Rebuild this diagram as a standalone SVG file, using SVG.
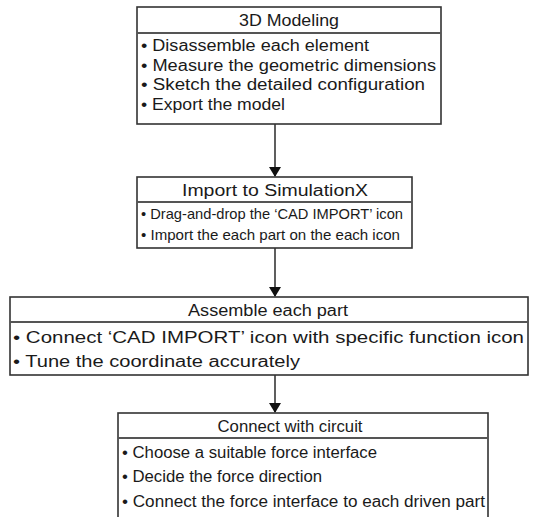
<svg xmlns="http://www.w3.org/2000/svg" width="536" height="517" viewBox="0 0 536 517">
  <style>
    .box { fill: #ffffff; stroke: #333333; stroke-width: 1.6; }
    .div { stroke: #555555; stroke-width: 2; }
    .t { font-family: "Liberation Sans", Arial, sans-serif; font-size: 16px; fill: #1a1a1a; }
    .small { font-size: 15px; }
    .title { text-anchor: middle; }
    .edge { stroke: #1a1a1a; stroke-width: 1.4; fill: none; marker-end: url(#arrow); }
  </style>
  <defs>
    <marker id="arrow" markerWidth="10" markerHeight="12" refX="9" refY="6" orient="auto" markerUnits="userSpaceOnUse">
      <path d="M0,0 L10,6 L0,12 Z" fill="#111111"/>
    </marker>
  </defs>
  <rect width="536" height="517" fill="#ffffff"/>

  <g id="connectors">
    <line class="edge" x1="275" y1="124" x2="275" y2="176"/>
    <line class="edge" x1="275" y1="248" x2="275" y2="296"/>
    <line class="edge" x1="275" y1="375" x2="275" y2="412"/>
  </g>

  <g id="modeling">
    <rect class="box" x="137" y="7" width="304" height="117"/>
    <line class="div" x1="137" y1="33" x2="441" y2="33"/>
    <text class="t title" x="289" y="26" textLength="100" lengthAdjust="spacingAndGlyphs">3D Modeling</text>
    <text class="t" x="141" y="51" textLength="228" lengthAdjust="spacingAndGlyphs">• Disassemble each element</text>
    <text class="t" x="141" y="71" textLength="295" lengthAdjust="spacingAndGlyphs">• Measure the geometric dimensions</text>
    <text class="t" x="141" y="90" textLength="284" lengthAdjust="spacingAndGlyphs">• Sketch the detailed configuration</text>
    <text class="t" x="141" y="110" textLength="144" lengthAdjust="spacingAndGlyphs">• Export the model</text>
  </g>

  <g id="import">
    <rect class="box" x="137" y="177" width="275" height="71"/>
    <line class="div" x1="137" y1="202" x2="412" y2="202"/>
    <text class="t title" x="275" y="196" textLength="186" lengthAdjust="spacingAndGlyphs">Import to SimulationX</text>
    <text class="t small" x="141" y="219" textLength="262" lengthAdjust="spacingAndGlyphs">• Drag-and-drop the ‘CAD IMPORT’ icon</text>
    <text class="t small" x="141" y="240" textLength="259" lengthAdjust="spacingAndGlyphs">• Import the each part on the each icon</text>
  </g>

  <g id="assemble">
    <rect class="box" x="10" y="297" width="518" height="78"/>
    <line class="div" x1="10" y1="322" x2="528" y2="322"/>
    <text class="t title" x="268" y="316" textLength="160" lengthAdjust="spacingAndGlyphs">Assemble each part</text>
    <text class="t" x="13" y="343" textLength="511" lengthAdjust="spacingAndGlyphs">• Connect ‘CAD IMPORT’ icon with specific function icon</text>
    <text class="t" x="13" y="367" textLength="287" lengthAdjust="spacingAndGlyphs">• Tune the coordinate accurately</text>
  </g>

  <g id="circuit">
    <rect class="box" x="118" y="413" width="370" height="110"/>
    <line class="div" x1="118" y1="438" x2="488" y2="438"/>
    <text class="t title" x="290" y="432" textLength="145" lengthAdjust="spacingAndGlyphs">Connect with circuit</text>
    <text class="t" x="122" y="458" textLength="255" lengthAdjust="spacingAndGlyphs">• Choose a suitable force interface</text>
    <text class="t" x="122" y="482" textLength="200" lengthAdjust="spacingAndGlyphs">• Decide the force direction</text>
    <text class="t" x="122" y="507" textLength="363" lengthAdjust="spacingAndGlyphs">• Connect the force interface to each driven part</text>
  </g>
</svg>
